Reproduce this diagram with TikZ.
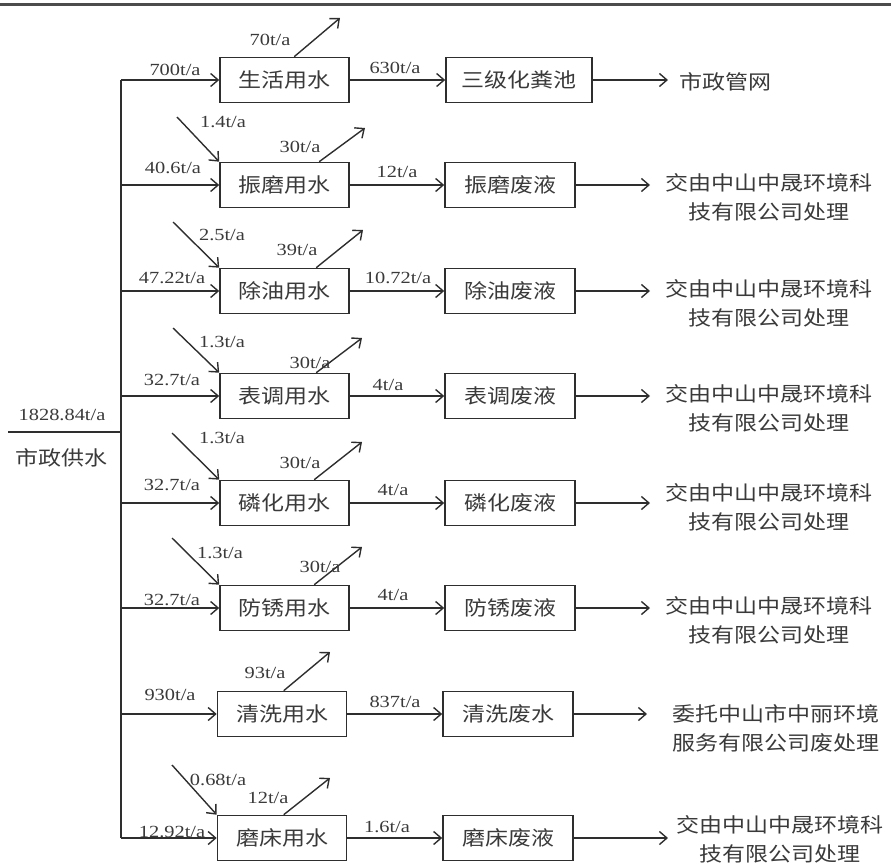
\documentclass[tikz,border=0pt]{standalone}
\usepackage{fontspec}
\usetikzlibrary{arrows.meta,calc}
\newfontfamily\cjk[FakeStretch=1.15]{Noto Sans CJK SC}
\newfontfamily\numf[FakeStretch=1.2]{Liberation Serif}
\definecolor{ink}{HTML}{2E2E2E}
\definecolor{txt}{HTML}{3A3A3A}
\begin{document}
\begin{tikzpicture}[x=1pt,y=-1pt,
  box/.style={draw=ink, line width=1.6pt, minimum height=45pt, inner sep=0pt, font=\cjk\fontsize{20}{24}\selectfont, text=txt},
  lbox/.style={box, minimum width=129pt},
  mbox/.style={box, minimum width=130pt},
  num/.style={font=\numf\fontsize{17}{19}\selectfont, text=txt, inner sep=0pt},
  dest/.style={font=\cjk\fontsize{20}{29}\selectfont, text=txt, align=center, inner sep=0pt},
  flow/.style={draw=ink, line width=1.4pt, -{Straight Barb[length=7.5pt,width=13pt,line width=1.4pt]}},
  pipe/.style={draw=ink, line width=1.4pt}]
\useasboundingbox (0,0) rectangle (891,865);
\draw[line width=3pt, gray!60!black] (0,4) -- (891,4);

% trunk and source
\coordinate (T1) at (121,80);
\coordinate (T2) at (121,185);
\coordinate (T3) at (121,291);
\coordinate (T4) at (121,396);
\coordinate (T5) at (121,503);
\coordinate (T6) at (121,608);
\coordinate (T7) at (121,714);
\coordinate (T8) at (121,838);
\coordinate (T0) at (121,432);
\coordinate (S0) at (8,432);
\draw[pipe] (T1) -- (T8);
\draw[pipe] (S0) -- (T0);
\node[num] (src) at (62,415) {1828.84t/a};
\node[font=\cjk\fontsize{20}{24}\selectfont, text=txt, inner sep=0pt] (srcname) at (62,458) {市政供水};

% row 1
\node[lbox] (L1) at (284.5,80) {生活用水};
\node[box, minimum width=146pt] (M1) at (519,80) {三级化粪池};
\coordinate (E1) at (668,80);
\node[dest, anchor=west] (D1) at (679,82) {市政管网};
\coordinate (V1) at (340,18);
\draw[flow] (T1) -- (L1.west);
\draw[flow] (L1.east) -- (M1.west);
\draw[flow] (M1.east) -- (E1);
\draw[flow] ([xshift=75pt]L1.north west) -- (V1);
\node[num] (n1a) at (175,70) {700t/a};
\node[num] (n1b) at (270,40) {70t/a};
\node[num] (n1c) at (395,68) {630t/a};

% row 2
\node[lbox] (L2) at (284.5,185) {振磨用水};
\node[mbox] (M2) at (510,185) {振磨废液};
\coordinate (E2) at (650,185);
\node[dest, anchor=north] (D2) at (769,173) {交由中山中晟环境科\\技有限公司处理};
\coordinate (S2) at (177,117);
\coordinate (V2) at (365,128);
\draw[flow] (T2) -- (L2.west);
\draw[flow] (L2.east) -- (M2.west);
\draw[flow] (M2.east) -- (E2);
\draw[flow] (S2) -- (L2.north west);
\draw[flow] ([xshift=100pt]L2.north west) -- (V2);
\node[num] (n2a) at (223,122) {1.4t/a};
\node[num] (n2b) at (300,147) {30t/a};
\node[num] (n2c) at (173,168) {40.6t/a};
\node[num] (n2d) at (397,172) {12t/a};

% row 3
\node[lbox] (L3) at (284.5,291) {除油用水};
\node[mbox] (M3) at (510,291) {除油废液};
\coordinate (E3) at (650,291);
\node[dest, anchor=north] (D3) at (769,279) {交由中山中晟环境科\\技有限公司处理};
\coordinate (S3) at (173,222);
\coordinate (V3) at (363,230);
\draw[flow] (T3) -- (L3.west);
\draw[flow] (L3.east) -- (M3.west);
\draw[flow] (M3.east) -- (E3);
\draw[flow] (S3) -- (L3.north west);
\draw[flow] ([xshift=97pt]L3.north west) -- (V3);
\node[num] (n3a) at (222,235) {2.5t/a};
\node[num] (n3b) at (297,250) {39t/a};
\node[num] (n3c) at (172,278) {47.22t/a};
\node[num] (n3d) at (398,278) {10.72t/a};

% row 4
\node[lbox] (L4) at (284.5,396) {表调用水};
\node[mbox] (M4) at (510,396) {表调废液};
\coordinate (E4) at (650,396);
\node[dest, anchor=north] (D4) at (769,384) {交由中山中晟环境科\\技有限公司处理};
\coordinate (S4) at (173,328);
\coordinate (V4) at (362,338);
\draw[flow] (T4) -- (L4.west);
\draw[flow] (L4.east) -- (M4.west);
\draw[flow] (M4.east) -- (E4);
\draw[flow] (S4) -- (L4.north west);
\draw[flow] ([xshift=97pt]L4.north west) -- (V4);
\node[num] (n4a) at (222,342) {1.3t/a};
\node[num] (n4b) at (310,363) {30t/a};
\node[num] (n4c) at (172,380) {32.7t/a};
\node[num] (n4d) at (388,385) {4t/a};

% row 5
\node[lbox] (L5) at (284.5,503) {磷化用水};
\node[mbox] (M5) at (510,503) {磷化废液};
\coordinate (E5) at (650,503);
\node[dest, anchor=north] (D5) at (769,483) {交由中山中晟环境科\\技有限公司处理};
\coordinate (S5) at (172,433);
\coordinate (V5) at (362,442);
\draw[flow] (T5) -- (L5.west);
\draw[flow] (L5.east) -- (M5.west);
\draw[flow] (M5.east) -- (E5);
\draw[flow] (S5) -- (L5.north west);
\draw[flow] ([xshift=95pt]L5.north west) -- (V5);
\node[num] (n5a) at (222,438) {1.3t/a};
\node[num] (n5b) at (300,463) {30t/a};
\node[num] (n5c) at (172,485) {32.7t/a};
\node[num] (n5d) at (393,490) {4t/a};

% row 6
\node[lbox] (L6) at (284.5,608) {防锈用水};
\node[mbox] (M6) at (510,608) {防锈废液};
\coordinate (E6) at (650,608);
\node[dest, anchor=north] (D6) at (769,596) {交由中山中晟环境科\\技有限公司处理};
\coordinate (S6) at (172,538);
\coordinate (V6) at (362,547);
\draw[flow] (T6) -- (L6.west);
\draw[flow] (L6.east) -- (M6.west);
\draw[flow] (M6.east) -- (E6);
\draw[flow] (S6) -- (L6.north west);
\draw[flow] ([xshift=95pt]L6.north west) -- (V6);
\node[num] (n6a) at (220,553) {1.3t/a};
\node[num] (n6b) at (320,567) {30t/a};
\node[num] (n6c) at (172,600) {32.7t/a};
\node[num] (n6d) at (393,595) {4t/a};

% row 7
\node[lbox] (L7) at (282,714) {清洗用水};
\node[mbox] (M7) at (508,714) {清洗废水};
\coordinate (E7) at (647,714);
\node[dest, anchor=north] (D7) at (776,704) {委托中山市中丽环境\\服务有限公司废处理};
\coordinate (V7) at (330,652);
\draw[flow] (T7) -- (L7.west);
\draw[flow] (L7.east) -- (M7.west);
\draw[flow] (M7.east) -- (E7);
\draw[flow] ([xshift=67pt]L7.north west) -- (V7);
\node[num] (n7b) at (265,673) {93t/a};
\node[num] (n7c) at (170,695) {930t/a};
\node[num] (n7d) at (395,702) {837t/a};

% row 8
\node[lbox] (L8) at (282,838) {磨床用水};
\node[mbox] (M8) at (508,838) {磨床废液};
\coordinate (E8) at (668,838);
\node[dest, anchor=north] (D8) at (780,815) {交由中山中晟环境科\\技有限公司处理};
\coordinate (S8) at (172,765);
\coordinate (V8) at (330,778);
\draw[flow] (T8) -- (L8.west);
\draw[flow] (L8.east) -- (M8.west);
\draw[flow] (M8.east) -- (E8);
\draw[flow] (S8) -- (L8.north west);
\draw[flow] ([xshift=67pt]L8.north west) -- (V8);
\node[num] (n8a) at (218,780) {0.68t/a};
\node[num] (n8b) at (268,798) {12t/a};
\node[num] (n8c) at (172,832) {12.92t/a};
\node[num] (n8d) at (387,827) {1.6t/a};
\end{tikzpicture}
\end{document}
